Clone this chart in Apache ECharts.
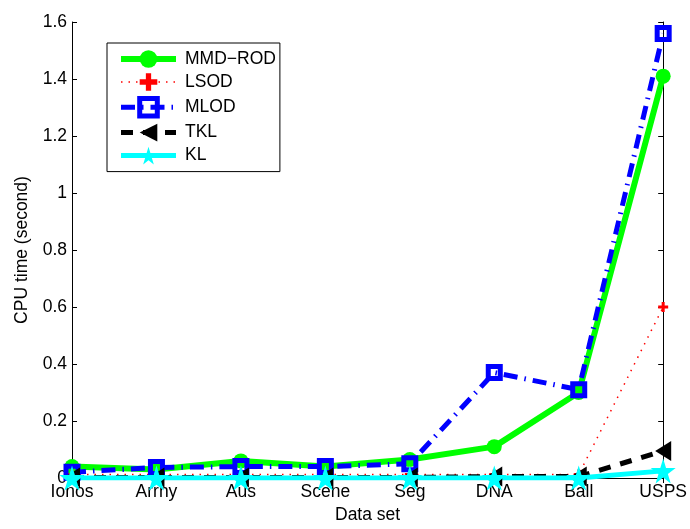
<!DOCTYPE html>
<html>
<head>
<meta charset="utf-8">
<script src="https://cdn.jsdelivr.net/npm/echarts@6/dist/echarts.min.js"></script>
<style>html,body{margin:0;padding:0;background:#fff;}#c{width:690px;height:529px;}</style>
</head>
<body>
<div id="c"></div>
<script>
const categories = ['Ionos', 'Arrhy', 'Aus', 'Scene', 'Seg', 'DNA', 'Ball', 'USPS'];
const mmdRod = [0.04, 0.03, 0.06, 0.04, 0.065, 0.11, 0.30, 1.41];
const lsod   = [0.012, 0.012, 0.012, 0.012, 0.012, 0.012, 0.012, 0.60];
const mlod   = [0.02, 0.037, 0.04, 0.04, 0.05, 0.37, 0.31, 1.56];
const tkl    = [0.002, 0.002, 0.002, 0.002, 0.002, 0.005, 0.005, 0.095];
const kl     = [0.0, 0.0, 0.0, 0.0, 0.0, 0.0, 0.0, 0.025];
const seriesNames = ['MMD\u2212ROD', 'LSOD', 'MLOD', 'TKL', 'KL'];

const FONT = 'Liberation Sans, Arial, Helvetica, sans-serif';
const FS = 17.5;
const STAR = 'path://M50,0 L61,35 L98,35 L68,57 L79,91 L50,70 L21,91 L32,57 L2,35 L39,35 Z';
const PLUS = 'path://M35,0 H65 V35 H100 V65 H65 V100 H35 V65 H0 V35 H35 Z';
const LTRI = 'path://M0,50 L100,0 L100,100 Z';

const styles = [
  {symbol: 'circle', symbolSize: 15, line: {color: '#00ff00', width: 6, type: 'solid'},
   item: {color: '#00ff00'}},
  {symbol: PLUS, symbolSize: 10, line: {color: '#ff0000', width: 1.5, type: [1.5, 6]},
   item: {color: '#ff0000'}},
  {symbol: 'rect', symbolSize: 12, line: {color: '#0000ff', width: 5, type: [14, 7, 1.5, 7]},
   item: {color: 'rgba(255,255,255,0)', borderColor: '#0000ff', borderWidth: 5}},
  {symbol: LTRI, symbolSize: [16, 20], line: {color: '#000000', width: 5, type: [12, 10]},
   item: {color: '#000000'}},
  {symbol: STAR, symbolSize: 25, line: {color: '#00ffff', width: 5, type: 'solid'},
   item: {color: '#00ffff'}}
];
const values = [mmdRod, lsod, mlod, tkl, kl];

const chart = echarts.init(document.getElementById('c'), null, {renderer: 'canvas'});
const axisLine = {show: true, lineStyle: {color: '#000', width: 1}};
const tick = {show: true, inside: true, length: 5, lineStyle: {color: '#000'}};
chart.setOption({
  animation: false,
  backgroundColor: '#fff',
  grid: {left: 72, right: 24, top: 22, bottom: 43, containLabel: false},
  legend: {
    orient: 'vertical', left: 107, top: 43,
    data: seriesNames.map((n, i) => ({
      name: n,
      lineStyle: {width: styles[i].line.width, type: styles[i].line.type, color: styles[i].line.color},
      itemStyle: Object.assign({}, styles[i].item)
    })),
    itemWidth: 55, itemHeight: 22, itemGap: 5,
    padding: [7, 4, 7, 11],
    borderColor: '#000', borderWidth: 1, backgroundColor: '#fff',
    textStyle: {fontFamily: FONT, fontSize: FS, color: '#000', padding: [0, 0, 0, 4]}
  },
  xAxis: [{
    type: 'category', data: categories, boundaryGap: false,
    axisLine: axisLine, axisTick: tick,
    axisLabel: {fontFamily: FONT, fontSize: FS, color: '#000', margin: 5},
    splitLine: {show: false},
    name: 'Data set', nameLocation: 'middle', nameGap: 28,
    nameTextStyle: {fontFamily: FONT, fontSize: FS, color: '#000'}
  }, {
    type: 'category', data: categories, boundaryGap: false, position: 'top',
    axisLine: axisLine, axisTick: tick,
    axisLabel: {show: false}, splitLine: {show: false}
  }],
  yAxis: [{
    type: 'value', min: 0, max: 1.6, interval: 0.2,
    axisLine: axisLine, axisTick: tick,
    axisLabel: {fontFamily: FONT, fontSize: FS, color: '#000', margin: 5},
    splitLine: {show: false},
    name: 'CPU time (second)', nameLocation: 'middle', nameGap: 41, nameRotate: 90,
    nameTextStyle: {fontFamily: FONT, fontSize: FS, color: '#000'}
  }, {
    type: 'value', min: 0, max: 1.6, interval: 0.2, position: 'right',
    axisLine: axisLine, axisTick: tick,
    axisLabel: {show: false}, splitLine: {show: false}
  }],
  series: seriesNames.map((n, i) => ({
    name: n, type: 'line', data: values[i],
    symbol: styles[i].symbol, symbolSize: styles[i].symbolSize, showAllSymbol: true,
    lineStyle: styles[i].line,
    itemStyle: styles[i].item
  }))
});
</script>
</body>
</html>
